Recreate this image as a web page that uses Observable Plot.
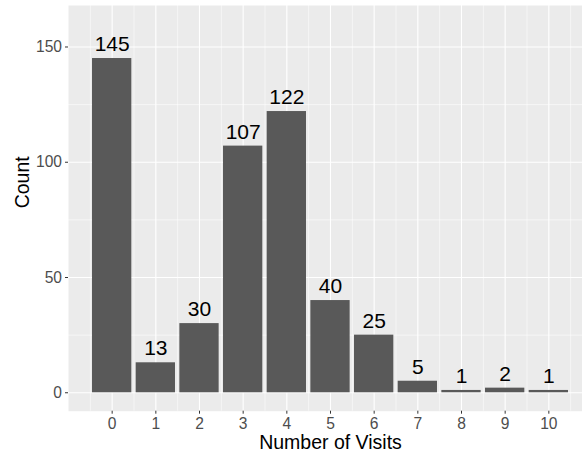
<!DOCTYPE html>
<html>
<head>
<meta charset="utf-8">
<script src="https://cdn.jsdelivr.net/npm/d3@7"></script>
<script src="https://cdn.jsdelivr.net/npm/@observablehq/plot@0.6"></script>
<style>
  html, body { margin: 0; padding: 0; background: white; }
</style>
</head>
<body>
<div id="chart"></div>
<script>
const visits = [0, 1, 2, 3, 4, 5, 6, 7, 8, 9, 10];
const counts = [145, 13, 30, 107, 122, 40, 25, 5, 1, 2, 1];
const yTicks = [0, 50, 100, 150];
const yMinor = [25, 75, 125];
const xMinor = [-0.5, 0.5, 1.5, 2.5, 3.5, 4.5, 5.5, 6.5, 7.5, 8.5, 9.5, 10.5];
const xTitle = "Number of Visits";
const yTitle = "Count";

const data = visits.map((v, i) => ({visits: v, count: counts[i]}));

const chart = Plot.plot({
  width: 582,
  height: 457,
  marginLeft: 68,
  marginRight: 0,
  marginTop: 5,
  marginBottom: 46.3,
  style: {fontFamily: "'Liberation Sans', Arial, sans-serif", background: "white"},
  x: {type: "linear", domain: [-1, 11], range: [68, 592], axis: null},
  y: {domain: [-8, 168], axis: null},
  marks: [
    Plot.frame({fill: "#EBEBEB", stroke: null}),
    Plot.ruleY(yMinor, {stroke: "white", strokeWidth: 0.55}),
    Plot.ruleX(xMinor, {stroke: "white", strokeWidth: 0.55}),
    Plot.ruleY(yTicks, {stroke: "white", strokeWidth: 1.1}),
    Plot.ruleX(visits, {stroke: "white", strokeWidth: 1.1}),
    Plot.rectY(data, {x1: d => d.visits - 0.45, x2: d => d.visits + 0.45, y1: 0, y2: "count", fill: "#595959"}),
    Plot.text(data, {x: "visits", y: "count", text: d => String(d.count), lineAnchor: "bottom", dy: -7.5, fontSize: 21, fill: "black"}),
    Plot.axisY({ticks: yTicks, tickSize: 3, tickPadding: 3.5, fontSize: 15.6, fill: "#4D4D4D", stroke: "#333333", label: null, tickFormat: d => String(d)}),
    Plot.axisX({ticks: visits, tickSize: 3, tickPadding: 4, fontSize: 15.6, fill: "#4D4D4D", stroke: "#333333", label: null, tickFormat: d => String(d)}),
    Plot.text([xTitle], {x: 5, frameAnchor: "bottom", lineAnchor: "bottom", dy: 37.8, fontSize: 19.5, fill: "black"}),
    Plot.text([yTitle], {y: 80, frameAnchor: "left", rotate: -90, lineAnchor: "bottom", dx: -40, fontSize: 19.5, fill: "black"})
  ]
});
document.getElementById("chart").appendChild(chart);
</script>
</body>
</html>
